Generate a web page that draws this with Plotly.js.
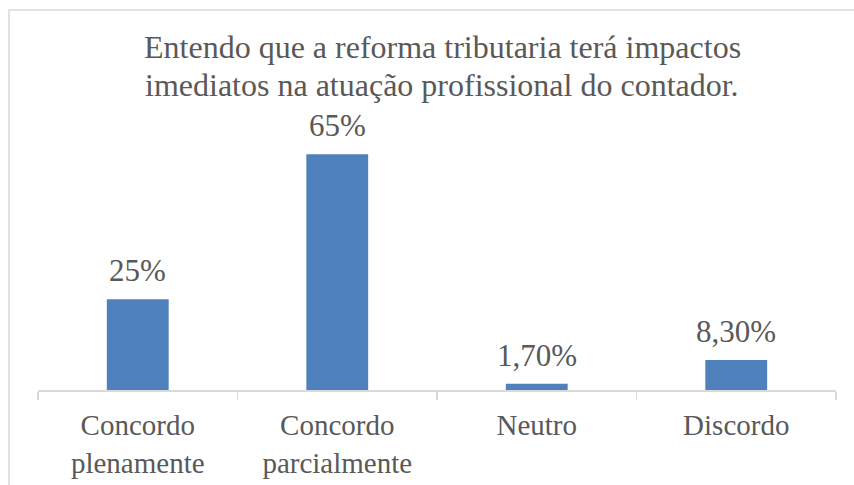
<!DOCTYPE html>
<html>
<head>
<meta charset="utf-8">
<script src="https://cdn.plot.ly/plotly-3.0.1.min.js"></script>
<style>html,body{margin:0;padding:0;background:#fff;}</style>
</head>
<body>
<div id="chart" style="width:854px;height:485px;"></div>
<script>
const categories = ['Concordo<br>plenamente', 'Concordo<br>parcialmente', 'Neutro', 'Discordo'];
const values = [25, 65, 1.7, 8.3];
const valueLabels = ['25%', '65%', '1,70%', '8,30%'];
const titleLines = ['Entendo que a reforma tributaria terá impactos', 'imediatos na atuação profissional do contador.'];

const W = 854, H = 485;
const L = 38, R = 18, T = 136, B = 95;
const plotW = W - L - R, plotH = H - T - B;
const font = 'Liberation Serif';
const textColor = '#595959';

const data = [{
  type: 'bar',
  x: categories,
  y: values,
  marker: {color: '#4f81bd'},
  hoverinfo: 'none'
}];

const labelAnnotations = categories.map((c, i) => ({
  x: c, y: values[i], xref: 'x', yref: 'y',
  text: valueLabels[i], showarrow: false,
  yanchor: 'bottom', yshift: 9,
  font: {family: font, size: 31, color: textColor}
}));

const titleCenters = [47, 85];
const titleAnnotations = titleLines.map((t, i) => ({
  x: (442 - L) / plotW, xref: 'paper', xanchor: 'center',
  y: (T + plotH - titleCenters[i]) / plotH, yref: 'paper', yanchor: 'middle',
  text: t, showarrow: false,
  font: {family: font, size: 32, color: textColor}
}));

const layout = {
  width: W, height: H,
  margin: {l: L, r: R, t: T, b: B, pad: 0},
  paper_bgcolor: '#ffffff',
  plot_bgcolor: '#ffffff',
  bargap: 0.69,
  showlegend: false,
  xaxis: {
    type: 'category',
    showline: true, linecolor: '#d9d9d9', linewidth: 1.5,
    ticks: 'outside', tickson: 'boundaries', ticklen: 8, tickcolor: '#d9d9d9', tickwidth: 1.5,
    ticklabelstandoff: 9,
    tickfont: {family: font, size: 29, color: textColor},
    showgrid: false, zeroline: false, fixedrange: true
  },
  yaxis: {
    range: [0, 70], visible: false, showgrid: false, zeroline: false, fixedrange: true
  },
  annotations: titleAnnotations.concat(labelAnnotations),
  shapes: [{
    type: 'rect', xref: 'paper', yref: 'paper',
    x0: (9 - L) / plotW, x1: (W + 20 - L) / plotW,
    y0: -(H + 20 - (T + plotH)) / plotH, y1: (T + plotH - 10) / plotH,
    line: {color: '#d9d9d9', width: 1.5}, fillcolor: 'rgba(0,0,0,0)'
  }]
};

Plotly.newPlot('chart', data, layout, {displayModeBar: false, staticPlot: true});
</script>
</body>
</html>
